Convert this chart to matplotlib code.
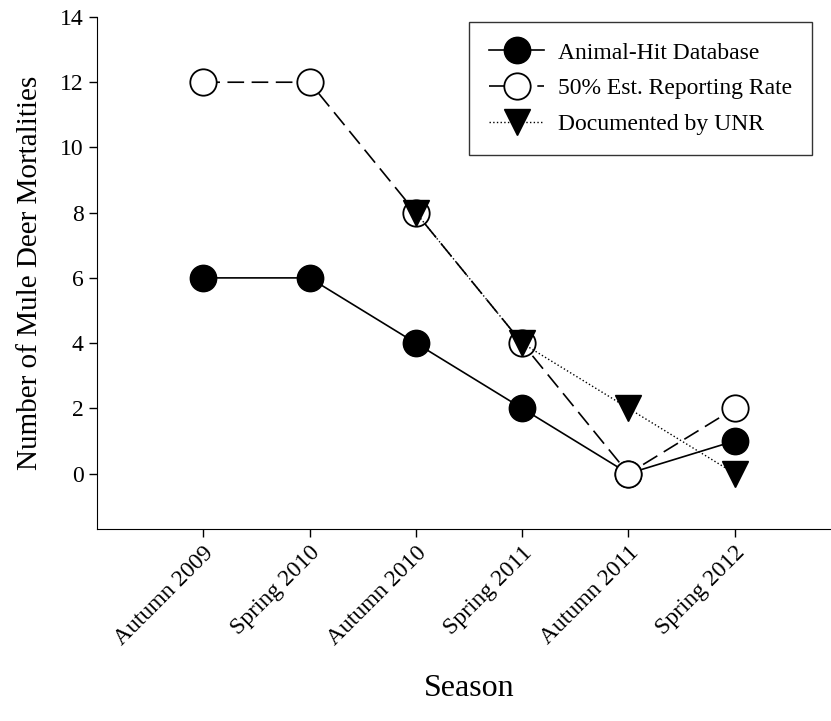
import matplotlib
matplotlib.use('Agg')
import matplotlib.pyplot as plt
import numpy as np

plt.rcParams['font.family'] = ['Liberation Serif', 'DejaVu Serif']

seasons = ['Autumn 2009', 'Spring 2010', 'Autumn 2010', 'Spring 2011', 'Autumn 2011', 'Spring 2012']
animal_hit = [6, 6, 4, 2, 0, 1]
est_50 = [12, 12, 8, 4, 0, 2]
unr_idx = [2, 3, 4, 5]
unr = [8, 4, 2, 0]

x = np.arange(len(seasons))

fig = plt.figure(figsize=(8.31, 7.21), dpi=100)
ax = fig.add_axes([97/831, 192/721, 744/831, 512/721])

ax.plot(x, animal_hit, '-', color='black', lw=1.2, marker='o', ms=19,
        mfc='black', mec='black', label='Animal-Hit Database', zorder=3)
ax.plot(x, est_50, color='black', lw=1.2, dashes=(10, 4.5), marker='o', ms=19,
        mfc='white', mec='black', mew=1.3, label='50% Est. Reporting Rate', zorder=4)
ax.plot(unr_idx, unr, ':', color='black', lw=1.0, marker='v', ms=19,
        mfc='black', mec='black', label='Documented by UNR', zorder=5)

ax.set_xlim(-1, 6)
ax.set_ylim(-1.7, 14)
ax.set_yticks(range(0, 15, 2))
ax.set_xticks(x)
ax.set_xticklabels(seasons, rotation=45, ha='right', rotation_mode='anchor', fontsize=17)
ax.tick_params(axis='y', labelsize=17)
ax.tick_params(direction='out', length=6, width=1)
for s in ['top', 'right']:
    ax.spines[s].set_visible(False)
ax.set_ylabel('Number of Mule Deer Mortalities', fontsize=21, labelpad=12)
ax.set_xlabel('Season', fontsize=23, labelpad=18)

leg = ax.legend(loc='upper right', bbox_to_anchor=(0.977, 1.013), fontsize=17,
                frameon=True, fancybox=False, edgecolor='black', markerscale=1.0,
                handlelength=2.3, borderpad=0.85, labelspacing=0.6, handletextpad=0.6)
leg.get_frame().set_linewidth(1.0)

fig.savefig('out.png', dpi=100)
